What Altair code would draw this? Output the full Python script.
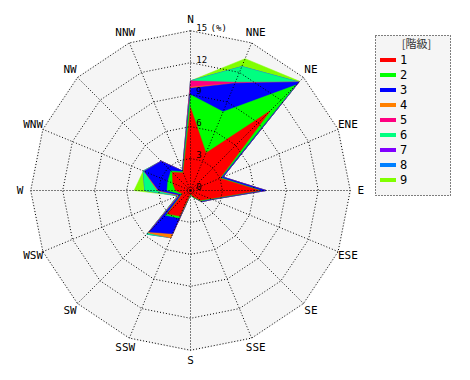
import math
import altair as alt
import pandas as pd

# ---------------- data ----------------
DIRS = ["N", "NNE", "NE", "ENE", "E", "ESE", "SE", "SSE",
        "S", "SSW", "SW", "WSW", "W", "WNW", "NW", "NNW"]
RINGS = [3, 6, 9, 12, 15]
RING_LABELS = ["0", "3", "6", "9", "12", "15"]
UNIT_LABEL = "(%)"
CLASSES = ["1", "2", "3", "4", "5", "6", "7", "8", "9"]
COLORS = ["#ff0000", "#00ff00", "#0000ff", "#ff8000", "#ff0080",
          "#00ff80", "#8000ff", "#0080ff", "#80ff00"]
LEGEND_TITLE = "[階級]"

# frequency (%) of each class per direction (N, NNE, ... NNW)
class1 = [7.8, 3.8, 10.6, 3.0, 6.5, 2.0, 1.3, 0.6, 0.3, 2.6, 3.1, 0.8, 1.4, 1.8, 2.4, 1.8]
class2 = [1.2, 4.2, 3.4, 0.1, 0.1, 0.1, 0.1, 0.1, 0.1, 0.2, 0.2, 0.1, 0.8, 0.5, 0.2, 0.1]
class3 = [0.6, 2.9, 0.4, 0.2, 0.5, 0.1, 0.1, 0.0, 0.0, 1.6, 2.2, 0.2, 0.8, 2.4, 1.3, 0.1]
class4 = [0.1, 0.0, 0.0, 0.0, 0.0, 0.0, 0.0, 0.0, 0.0, 0.4, 0.1, 0.1, 0.1, 0.0, 0.0, 0.0]
class5 = [0.6, 0.1, 0.0, 0.0, 0.0, 0.0, 0.0, 0.0, 0.0, 0.0, 0.0, 0.0, 0.0, 0.0, 0.0, 0.0]
class6 = [0.0, 1.6, 0.0, 0.0, 0.0, 0.0, 0.0, 0.0, 0.0, 0.0, 0.2, 0.1, 1.2, 0.1, 0.0, 0.0]
class7 = [0.0] * 16
class8 = [0.0] * 16
class9 = [0.0, 0.8, 0.1, 0.0, 0.0, 0.0, 0.0, 0.0, 0.0, 0.0, 0.0, 0.0, 1.0, 0.0, 0.0, 0.0]
SERIES = [class1, class2, class3, class4, class5, class6, class7, class8, class9]

# ---------------- geometry ----------------
W, H = 446, 360
CX, CY = 182.5, 182.5
S = 10.65  # px per %
XDOM = [-CX / S, (W - CX) / S]
YDOM = [-(H - CY) / S, CY / S]


def xy(r, i):
    a = math.radians(i * 22.5)
    return r * math.sin(a), r * math.cos(a)


xs = alt.Scale(domain=XDOM, nice=False, zero=False)
ys = alt.Scale(domain=YDOM, nice=False, zero=False)
X = lambda f: alt.X(f, type="quantitative", scale=xs, axis=None)
Y = lambda f: alt.Y(f, type="quantitative", scale=ys, axis=None)

# background
bg_rows = []
for i in range(16):
    x, y = xy(15, i)
    bg_rows.append({"i": i, "x": x, "y": y})
bg = alt.Chart(pd.DataFrame(bg_rows)).mark_line(
    fill="#f5f5f5", stroke="#f5f5f5", interpolate="linear-closed"
).encode(x=X("x"), y=Y("y"), order="i:Q")

# data polygons (cumulative)
layers = []
cum = [0.0] * 16
cums = []
for s in SERIES:
    cum = [c + v for c, v in zip(cum, s)]
    cums.append(cum)
for k in range(len(CLASSES) - 1, -1, -1):
    rows = []
    for i in range(16):
        x, y = xy(cums[k][i], i)
        rows.append({"i": i, "x": x, "y": y, "dir": DIRS[i], "r": cums[k][i]})
    layers.append(
        alt.Chart(pd.DataFrame(rows)).mark_line(
            fill=COLORS[k], stroke=COLORS[k], strokeWidth=0.5,
            interpolate="linear-closed"
        ).encode(x=X("x"), y=Y("y"), order="i:Q")
    )

# rings
ring_rows = []
for r in RINGS:
    for i in range(16):
        x, y = xy(r, i)
        ring_rows.append({"ring": r, "i": i, "x": x, "y": y})
rings = alt.Chart(pd.DataFrame(ring_rows)).mark_line(
    stroke="black", strokeWidth=1, strokeDash=[1, 2], interpolate="linear-closed"
).encode(x=X("x"), y=Y("y"), detail="ring:N", order="i:Q")

# spokes
sp_rows = []
for i in range(16):
    x, y = xy(15, i)
    sp_rows.append({"x0": 0.0, "y0": 0.0, "x1": x, "y1": y})
spokes = alt.Chart(pd.DataFrame(sp_rows)).mark_rule(
    stroke="black", strokeWidth=1, strokeDash=[1, 2]
).encode(x=X("x0"), y=Y("y0"), x2="x1:Q", y2="y1:Q")

# direction labels
lab_rows = []
for i, d in enumerate(DIRS):
    x, y = xy(16.0, i)
    lab_rows.append({"x": x, "y": y, "t": d})
dir_labels = alt.Chart(pd.DataFrame(lab_rows)).mark_text(
    font="DejaVu Sans Mono", fontSize=11, color="black", baseline="middle", align="center"
).encode(x=X("x"), y=Y("y"), text="t:N")

# ring labels
rl_rows = []
for v, t in zip([0] + RINGS, RING_LABELS):
    rl_rows.append({"x": 0.55, "y": v + 0.3, "t": t})
ring_labels = alt.Chart(pd.DataFrame(rl_rows)).mark_text(
    font="DejaVu Sans Mono", fontSize=9, color="black", baseline="middle", align="left"
).encode(x=X("x"), y=Y("y"), text="t:N")
unit = alt.Chart(pd.DataFrame([{"x": 1.6, "y": 15.3, "t": UNIT_LABEL}])).mark_text(
    font="DejaVu Sans Mono", fontSize=9, color="black", baseline="middle", align="left",
    dx=3
).encode(x=X("x"), y=Y("y"), text="t:N")

# legend (pixel positions)
leg_box = alt.Chart(pd.DataFrame([{"a": 0}])).mark_rect(
    fill="#f5f5f5", stroke="black", strokeWidth=1, strokeDash=[1, 2]
).encode(x=alt.value(367.5), x2=alt.value(442.5), y=alt.value(27.5), y2=alt.value(187.5))
leg_title = alt.Chart(pd.DataFrame([{"t": LEGEND_TITLE}])).mark_text(
    font="Noto Sans CJK JP", fontSize=11, color="#333333", baseline="middle", align="center"
).encode(x=alt.value(408.5), y=alt.value(37), text="t:N")
leg_df = pd.DataFrame({"cls": CLASSES, "k": list(range(len(CLASSES)))})
leg_base = alt.Chart(leg_df).transform_calculate(
    yc="52 + 15 * datum.k", ya="50 + 15 * datum.k", yb="54 + 15 * datum.k",
    xa="372", xb="388", xt="392"
)
leg_sw = leg_base.mark_rect().encode(
    x=alt.X("xa:Q", scale=None), x2="xb:Q",
    y=alt.Y("ya:Q", scale=None), y2="yb:Q",
    fill=alt.Color("cls:N", scale=alt.Scale(domain=CLASSES, range=COLORS), legend=None),
)
leg_txt = leg_base.mark_text(
    font="DejaVu Sans Mono", fontSize=12, color="black", baseline="middle", align="left"
).encode(x=alt.X("xt:Q", scale=None), y=alt.Y("yc:Q", scale=None), text="cls:N")

chart = alt.layer(
    bg, *layers, rings, spokes, dir_labels, ring_labels, unit,
    leg_box, leg_title, leg_sw, leg_txt
).properties(
    width=W, height=H, padding=0, autosize=alt.AutoSizeParams(type="none"),
    view=alt.ViewBackground(stroke="white", strokeWidth=0, strokeOpacity=0)
).configure_view(stroke="white", strokeWidth=0, strokeOpacity=0).configure(background="white")

chart.save("out.html", embed_options={"renderer": "svg", "actions": False})
